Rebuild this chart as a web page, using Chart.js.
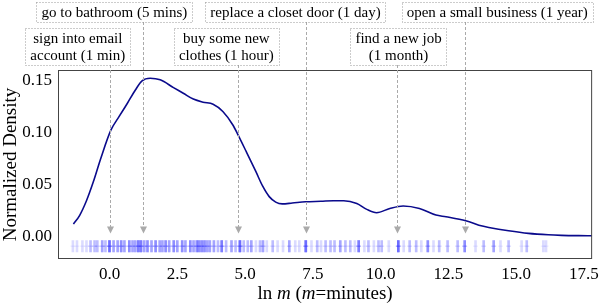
<!DOCTYPE html>
<html>
<head>
<meta charset="utf-8">
<script src="https://cdn.jsdelivr.net/npm/chart.js@4.4.0/dist/chart.umd.min.js"></script>
<style>
  html, body { margin: 0; padding: 0; background: #fff; }
  #wrap { width: 604px; height: 304px; }
</style>
</head>
<body>
<div id="wrap"><canvas id="densityChart" width="604" height="304"></canvas></div>
<script>
// density curve
const curveX = [-1.33, -1.1, -0.85, -0.6, -0.32, 0.05, 0.35, 0.66, 0.96, 1.2, 1.5, 1.87, 2.36, 2.72, 3.09, 3.45, 3.82,
    4.18, 4.55, 4.74, 5.04, 5.40, 5.65, 5.89, 6.13, 6.37, 6.74, 7.23, 7.8, 8.26, 8.64, 9.12, 9.49, 9.85, 10.34,
    10.83, 11.43, 12.04, 12.41, 13.14, 13.75, 13.99, 14.72, 15.45, 16.18, 16.67, 17.3, 17.8];
const curveY = [0.0115, 0.02, 0.034, 0.052, 0.075, 0.102, 0.115, 0.128, 0.141, 0.1495, 0.152, 0.1505, 0.143, 0.1376, 0.132, 0.129, 0.127,
    0.120, 0.107, 0.0975, 0.0815, 0.062, 0.048, 0.038, 0.0327, 0.031, 0.0318, 0.033, 0.0335, 0.034, 0.034, 0.0314, 0.0257, 0.0225, 0.0266,
    0.029, 0.0266, 0.0202, 0.0186, 0.0148, 0.0096, 0.0083, 0.0051, 0.0026, 0.0012, 0.0007, 0.0004, 0.0003];

// rug of individual tasks: position and how many sit there
const rugX = [-1.35, -1.2, -1.0, -0.85, -0.7, -0.55, -0.45, -0.27, -0.15, 0.0, 0.15, 0.3, 0.43, 0.55, 0.73, 0.85, 0.95,
    1.06, 1.16, 1.28, 1.4, 1.55, 1.7, 1.85, 1.95, 2.07, 2.2, 2.37, 2.5, 2.68, 2.8, 2.98, 3.1, 3.22, 3.3, 3.4, 3.5, 3.6,
    3.7, 3.85, 4.0, 4.14, 4.3, 4.5, 4.65, 4.81, 4.95, 5.1, 5.23, 5.4, 5.55, 5.66, 5.8, 6.02, 6.2, 6.4, 6.63, 6.85, 7.0,
    7.24, 7.45, 7.66, 7.8, 7.97, 8.15, 8.3, 8.51, 8.7, 8.88, 9.05, 9.19, 9.4, 9.55, 9.75, 9.92, 10.04, 10.3, 10.65, 10.85,
    11.07, 11.31, 11.5, 11.74, 11.95, 12.16, 12.47, 12.84, 13.1, 13.5, 13.8, 14.17, 14.42, 14.72, 15.2, 15.39, 16.0, 16.1];
const rugCount = [1, 1, 1, 1, 2, 2, 2, 3, 2, 6, 3, 3, 4, 3, 4, 3, 3,
    5, 5, 3, 4, 3, 4, 3, 3, 4, 3, 4, 3, 4, 3, 4, 3, 4, 4, 4, 4, 3,
    3, 3, 2, 5, 2, 3, 2, 6, 2, 2, 3, 1, 2, 3, 1, 2, 1, 1, 3, 1, 1,
    6, 1, 2, 1, 2, 2, 2, 3, 2, 2, 1, 5, 1, 2, 1, 2, 2, 1, 6, 1,
    2, 2, 1, 4, 1, 2, 2, 2, 4, 1, 2, 3, 1, 2, 1, 2, 1, 1];
const rugY = -0.0097;

const xTicks = [0, 2.5, 5, 7.5, 10, 12.5, 15, 17.5];
const yTicks = [0, 0.05, 0.10, 0.15];

// annotated tasks
const noteLines = [
    ['sign into email', 'account (1 min)'],
    ['go to bathroom (5 mins)'],
    ['buy some new', 'clothes (1 hour)'],
    ['replace a closet door (1 day)'],
    ['find a new job', '(1 month)'],
    ['open a small business (1 year)']
];
const noteArrowX = [0, 1.23, 4.74, 7.23, 10.62, 13.1];
const noteTextX = [-1.17, 0.18, 4.31, 6.86, 10.66, 14.3];
const noteRow = [1, 0, 1, 0, 1, 0];
const noteTipY = 0.0025;

const serif = '"Liberation Serif", "DejaVu Serif", serif';

const rugPoints = rugX.flatMap((x, i) => Array.from({ length: rugCount[i] }, () => ({ x: x, y: rugY })));
const curvePoints = curveX.map((x, i) => ({ x: x, y: curveY[i] }));

const annotePlugin = {
    id: 'annote',
    afterDraw(chart) {
        const ctx = chart.ctx;
        const xs = chart.scales.x, ys = chart.scales.y;
        const area = chart.chartArea;

        // frame round the axes
        ctx.save();
        ctx.strokeStyle = '#444';
        ctx.lineWidth = 1;
        ctx.strokeRect(area.left + 0.5, area.top + 0.5, area.right - area.left - 1, area.bottom - area.top - 1);
        ctx.restore();

        // x axis title with italic m
        ctx.save();
        const parts = [['ln ', false], ['m', true], [' (', false], ['m', true], ['=minutes)', false]];
        const fsz = 19;
        let total = 0;
        parts.forEach(p => {
            ctx.font = (p[1] ? 'italic ' : '') + fsz + 'px ' + serif;
            total += ctx.measureText(p[0]).width;
        });
        let cx = (area.left + area.right) / 2 - total / 2;
        ctx.fillStyle = '#000';
        ctx.textBaseline = 'alphabetic';
        parts.forEach(p => {
            ctx.font = (p[1] ? 'italic ' : '') + fsz + 'px ' + serif;
            ctx.fillText(p[0], cx, 299);
            cx += ctx.measureText(p[0]).width;
        });
        ctx.restore();

        // boxes and arrows
        ctx.save();
        ctx.font = '15px ' + serif;
        noteLines.forEach((lines, i) => {
            const tx = xs.getPixelForValue(noteTextX[i]);
            const ax = Math.round(xs.getPixelForValue(noteArrowX[i])) + 0.5;
            const tipY = ys.getPixelForValue(noteTipY);
            const w = Math.max(...lines.map(l => ctx.measureText(l).width)) + 10;
            const boxTop = noteRow[i] === 0 ? 2 : 28;
            const h = lines.length * 17 + 3;
            const boxBottom = boxTop + h;

            // dashed arrow line
            ctx.strokeStyle = '#aaa';
            ctx.lineWidth = 1;
            ctx.setLineDash([3, 2]);
            ctx.beginPath();
            ctx.moveTo(ax, boxBottom);
            ctx.lineTo(ax, tipY - 5);
            ctx.stroke();
            ctx.setLineDash([]);
            ctx.fillStyle = '#aaa';
            ctx.beginPath();
            ctx.moveTo(ax - 3.5, tipY - 7);
            ctx.lineTo(ax + 3.5, tipY - 7);
            ctx.lineTo(ax, tipY);
            ctx.closePath();
            ctx.fill();

            // dotted box
            ctx.fillStyle = '#fff';
            ctx.fillRect(tx - w / 2, boxTop, w, h);
            ctx.strokeStyle = '#999';
            ctx.setLineDash([1, 2]);
            ctx.strokeRect(Math.round(tx - w / 2) + 0.5, boxTop + 0.5, Math.round(w), h);
            ctx.setLineDash([]);

            ctx.fillStyle = '#000';
            ctx.textAlign = 'center';
            ctx.textBaseline = 'alphabetic';
            lines.forEach((l, k) => {
                ctx.fillText(l, tx, boxTop + 15 + k * 17);
            });
        });
        ctx.restore();
    }
};

new Chart(document.getElementById('densityChart'), {
    type: 'scatter',
    data: {
        datasets: [
            {
                data: rugPoints,
                pointStyle: 'line',
                rotation: 90,
                pointRadius: 6,
                pointBorderWidth: 2.6,
                borderColor: 'rgba(30, 30, 255, 0.16)',
                backgroundColor: 'rgba(30, 30, 255, 0.16)',
                order: 2
            },
            {
                data: rugPoints,
                pointStyle: 'line',
                rotation: 0,
                pointRadius: 2.5,
                pointBorderWidth: 1,
                borderColor: 'rgba(30, 30, 255, 0.1)',
                backgroundColor: 'rgba(30, 30, 255, 0.1)',
                order: 3
            },
            {
                data: curvePoints,
                showLine: true,
                borderColor: '#0a0a8c',
                borderWidth: 1.6,
                pointRadius: 0,
                cubicInterpolationMode: 'monotone',
                order: 1
            }
        ]
    },
    options: {
        responsive: false,
        animation: false,
        devicePixelRatio: 1,
        layout: { padding: { top: 70, right: 6, left: 0, bottom: 0 } },
        plugins: {
            legend: { display: false },
            tooltip: { enabled: false }
        },
        scales: {
            x: {
                min: -1.9,
                max: 17.8,
                grid: { display: false, drawTicks: false },
                border: { display: false },
                afterBuildTicks: scale => { scale.ticks = xTicks.map(v => ({ value: v })); },
                afterFit: scale => { scale.height = 45; },
                ticks: {
                    padding: 5,
                    maxRotation: 0,
                    autoSkip: false,
                    color: '#000',
                    font: { family: serif, size: 17 },
                    callback: v => v.toFixed(1)
                }
            },
            y: {
                min: -0.0221,
                max: 0.16,
                grid: { display: false, drawTicks: false },
                border: { display: false },
                afterBuildTicks: scale => { scale.ticks = yTicks.map(v => ({ value: v })); },
                afterFit: scale => { scale.width = 58; },
                title: {
                    display: true,
                    text: 'Normalized Density',
                    color: '#000',
                    font: { family: serif, size: 19 },
                    padding: { top: 0, bottom: 0 }
                },
                ticks: {
                    padding: 6,
                    color: '#000',
                    font: { family: serif, size: 17 },
                    callback: v => v.toFixed(2)
                }
            }
        }
    },
    plugins: [annotePlugin]
});
</script>
</body>
</html>
